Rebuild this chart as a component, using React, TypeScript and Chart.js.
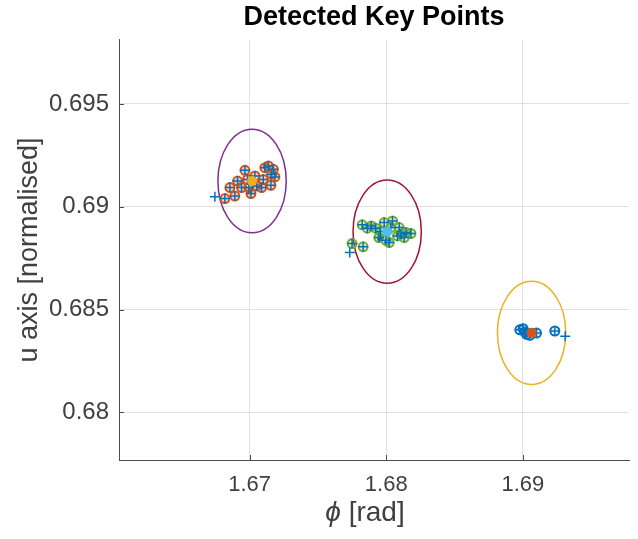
import React, { useEffect, useRef } from "react";
import { Chart, registerables } from "chart.js";

Chart.register(...registerables);

// ---- data ----
const titleText = "Detected Key Points";
const xLabelSymbol = "ϕ";
const xLabelUnit = " [rad]";
const yLabel = "u axis [normalised]";

const xTicks = [1.67, 1.68, 1.69];
const yTicks = [0.68, 0.685, 0.69, 0.695];
const xRange = [1.66044, 1.69777];
const yRange = [0.67769, 0.69811];

// cluster 1 (orange circles)
const c1Phi = [1.66819, 1.66856, 1.66892, 1.66912, 1.66941, 1.66966, 1.66985, 1.66995, 1.6701, 1.67051, 1.67088, 1.671, 1.67112, 1.67137, 1.67161, 1.67156, 1.67185, 1.67174, 1.67039];
const c1U = [0.6904, 0.69093, 0.69052, 0.69125, 0.69093, 0.69177, 0.69133, 0.69093, 0.69064, 0.69101, 0.69093, 0.69133, 0.6919, 0.69198, 0.69158, 0.69104, 0.69145, 0.69182, 0.6915];
// cluster 2 (green circles)
const c2Phi = [1.6775, 1.67831, 1.67824, 1.67861, 1.6789, 1.67922, 1.67958, 1.67946, 1.67998, 1.68022, 1.68046, 1.68083, 1.68108, 1.68145, 1.68181, 1.67985, 1.68034, 1.68095, 1.68132];
const c2U = [0.68821, 0.68805, 0.68912, 0.68896, 0.68907, 0.68896, 0.6888, 0.6885, 0.68837, 0.68826, 0.68931, 0.68858, 0.68867, 0.68875, 0.6887, 0.68923, 0.68899, 0.68899, 0.6885];
// cluster 3 (blue circles)
const c3Phi = [1.68978, 1.69002, 1.69015, 1.69027, 1.69051, 1.691, 1.69234];
const c3U = [0.68402, 0.68407, 0.68391, 0.6838, 0.68375, 0.68386, 0.68396];
// detections without cluster circle
const loosePhi = [1.66746, 1.67733, 1.6931];
const looseU = [0.69048, 0.68778, 0.68371];
// small dark dots
const dotPhi = [1.67951];
const dotU = [0.68846];
// cluster centres and ellipse half-axes
const centerPhi = [1.67018, 1.68007, 1.69064];
const centerU = [0.69125, 0.68879, 0.68387];
const ellRPhi = [0.0025, 0.0025, 0.0025];
const ellRU = [0.00252, 0.00251, 0.00251];

const BLUE = "#0072BD";
const ORANGE = "#D95319";
const YELLOW = "#EDB120";
const PURPLE = "#7E2F8E";
const GREEN = "#77AC30";
const CYAN = "#4DBEEE";
const RED = "#A2142F";
const centerColors = [YELLOW, CYAN, ORANGE];
const ellipseColors = [PURPLE, RED, YELLOW];

const FONT = "'Liberation Sans', Arial, Helvetica, sans-serif";
const AXIS_COLOR = "#4d4d4d";
const TEXT_COLOR = "#404040";
const X_LABEL_SIZE = 28;

const pts = (xs: number[], ys: number[]) => xs.map((x, i) => ({ x, y: ys[i] }));

const ellipsePlugin = {
  id: "ellipses",
  beforeDatasetsDraw(chart: any) {
    const { ctx, chartArea, scales } = chart;
    const xs = scales.x;
    const ys = scales.y;
    ctx.save();
    ctx.beginPath();
    ctx.rect(chartArea.left, chartArea.top, chartArea.right - chartArea.left, chartArea.bottom - chartArea.top);
    ctx.clip();
    centerPhi.forEach((cx, i) => {
      const px = xs.getPixelForValue(cx);
      const py = ys.getPixelForValue(centerU[i]);
      const rx = Math.abs(xs.getPixelForValue(cx + ellRPhi[i]) - px);
      const ry = Math.abs(ys.getPixelForValue(centerU[i] + ellRU[i]) - py);
      ctx.beginPath();
      ctx.ellipse(px, py, rx, ry, 0, 0, Math.PI * 2);
      ctx.strokeStyle = ellipseColors[i];
      ctx.lineWidth = 1.5;
      ctx.stroke();
    });
    ctx.restore();
  },
};

const tickPlugin = {
  id: "inwardTicks",
  afterDraw(chart: any) {
    const { ctx, chartArea, scales } = chart;
    ctx.save();
    ctx.strokeStyle = AXIS_COLOR;
    ctx.lineWidth = 1;
    ctx.beginPath();
    xTicks.forEach((v) => {
      const px = Math.round(scales.x.getPixelForValue(v)) + 0.5;
      ctx.moveTo(px, chartArea.bottom);
      ctx.lineTo(px, chartArea.bottom - 5);
    });
    yTicks.forEach((v) => {
      const py = Math.round(scales.y.getPixelForValue(v)) + 0.5;
      ctx.moveTo(chartArea.left, py);
      ctx.lineTo(chartArea.left + 5, py);
    });
    ctx.stroke();

    // x-axis label: italic phi + " [rad]"
    const cx = (chartArea.left + chartArea.right) / 2 - 9;
    const cy = 513;
    ctx.fillStyle = TEXT_COLOR;
    ctx.textBaseline = "middle";
    ctx.font = `italic ${X_LABEL_SIZE}px ${FONT}`;
    const w1 = ctx.measureText(xLabelSymbol).width;
    ctx.font = `${X_LABEL_SIZE}px ${FONT}`;
    const w2 = ctx.measureText(xLabelUnit).width;
    const start = cx - (w1 + w2) / 2;
    ctx.textAlign = "left";
    ctx.font = `italic ${X_LABEL_SIZE}px ${FONT}`;
    ctx.fillText(xLabelSymbol, start, cy);
    ctx.font = `${X_LABEL_SIZE}px ${FONT}`;
    ctx.fillText(xLabelUnit, start + w1, cy);
    ctx.restore();
  },
};

export default function App() {
  const ref = useRef<HTMLCanvasElement>(null);

  useEffect(() => {
    if (!ref.current) return;
    const circleDs = (xs: number[], ys: number[], color: string, bg: string) => ({
      data: pts(xs, ys),
      pointStyle: "circle",
      pointRadius: 4.5,
      pointBorderWidth: 2,
      pointBorderColor: color,
      pointBackgroundColor: bg,
      showLine: false,
    });
    const chart = new Chart(ref.current, {
      type: "scatter",
      data: {
        datasets: [
          {
            data: pts(centerPhi, centerU),
            pointStyle: "circle",
            pointRadius: 5,
            pointBorderWidth: 0,
            pointBackgroundColor: centerColors,
            pointBorderColor: centerColors,
          },
          {
            data: pts(dotPhi, dotU),
            pointStyle: "circle",
            pointRadius: 2.5,
            pointBorderWidth: 0,
            pointBackgroundColor: BLUE,
          },
          {
            data: pts([...c1Phi, ...c2Phi, ...c3Phi, ...loosePhi], [...c1U, ...c2U, ...c3U, ...looseU]),
            pointStyle: "cross",
            pointRadius: 5,
            pointBorderWidth: 1.5,
            pointBorderColor: BLUE,
          },
          circleDs(c1Phi, c1U, ORANGE, "rgba(217,83,25,0.28)"),
          circleDs(c2Phi, c2U, GREEN, "rgba(119,172,48,0.28)"),
          circleDs(c3Phi, c3U, BLUE, "rgba(0,114,189,0.08)"),
        ] as any,
      },
      options: {
        animation: false,
        responsive: false,
        events: [],
        layout: { padding: { left: 0, right: 9, top: 0, bottom: 0 } },
        plugins: {
          legend: { display: false },
          tooltip: { enabled: false },
          title: {
            display: true,
            text: titleText,
            fullSize: false,
            color: "#000",
            font: { family: FONT, size: 27, weight: "bold" },
            padding: { top: 1.5, bottom: 6 },
          },
        },
        scales: {
          x: {
            type: "linear",
            min: xRange[0],
            max: xRange[1],
            afterBuildTicks: (axis: any) => {
              axis.ticks = xTicks.map((value) => ({ value }));
            },
            afterFit: (scale: any) => {
              scale.height = 79;
            },
            ticks: {
              color: TEXT_COLOR,
              font: { family: FONT, size: 22 },
              padding: 12,
              maxRotation: 0,
              callback: (v: any) => String(Number(v)),
            },
            grid: { color: "#e1e1e1", lineWidth: 1, drawTicks: false },
            border: { display: true, color: AXIS_COLOR, width: 1 },
            title: { display: false },
          },
          y: {
            type: "linear",
            min: yRange[0],
            max: yRange[1],
            afterBuildTicks: (axis: any) => {
              axis.ticks = yTicks.map((value) => ({ value }));
            },
            afterFit: (scale: any) => {
              scale.width = 119;
            },
            ticks: {
              color: TEXT_COLOR,
              font: { family: FONT, size: 24 },
              padding: 10,
              callback: (v: any) => String(Number(v)),
            },
            grid: { color: "#e1e1e1", lineWidth: 1, drawTicks: false },
            border: { display: true, color: AXIS_COLOR, width: 1 },
            title: {
              display: true,
              text: yLabel,
              color: TEXT_COLOR,
              font: { family: FONT, size: 27 },
              padding: { top: 13.5, bottom: 0 },
            },
          },
        },
      } as any,
      plugins: [ellipsePlugin, tickPlugin],
    });
    return () => chart.destroy();
  }, []);

  return (
    <canvas
      ref={ref}
      width={638}
      height={539}
      style={{ position: "absolute", left: 0, top: 0, width: 638, height: 539, background: "#fff" }}
    />
  );
}
